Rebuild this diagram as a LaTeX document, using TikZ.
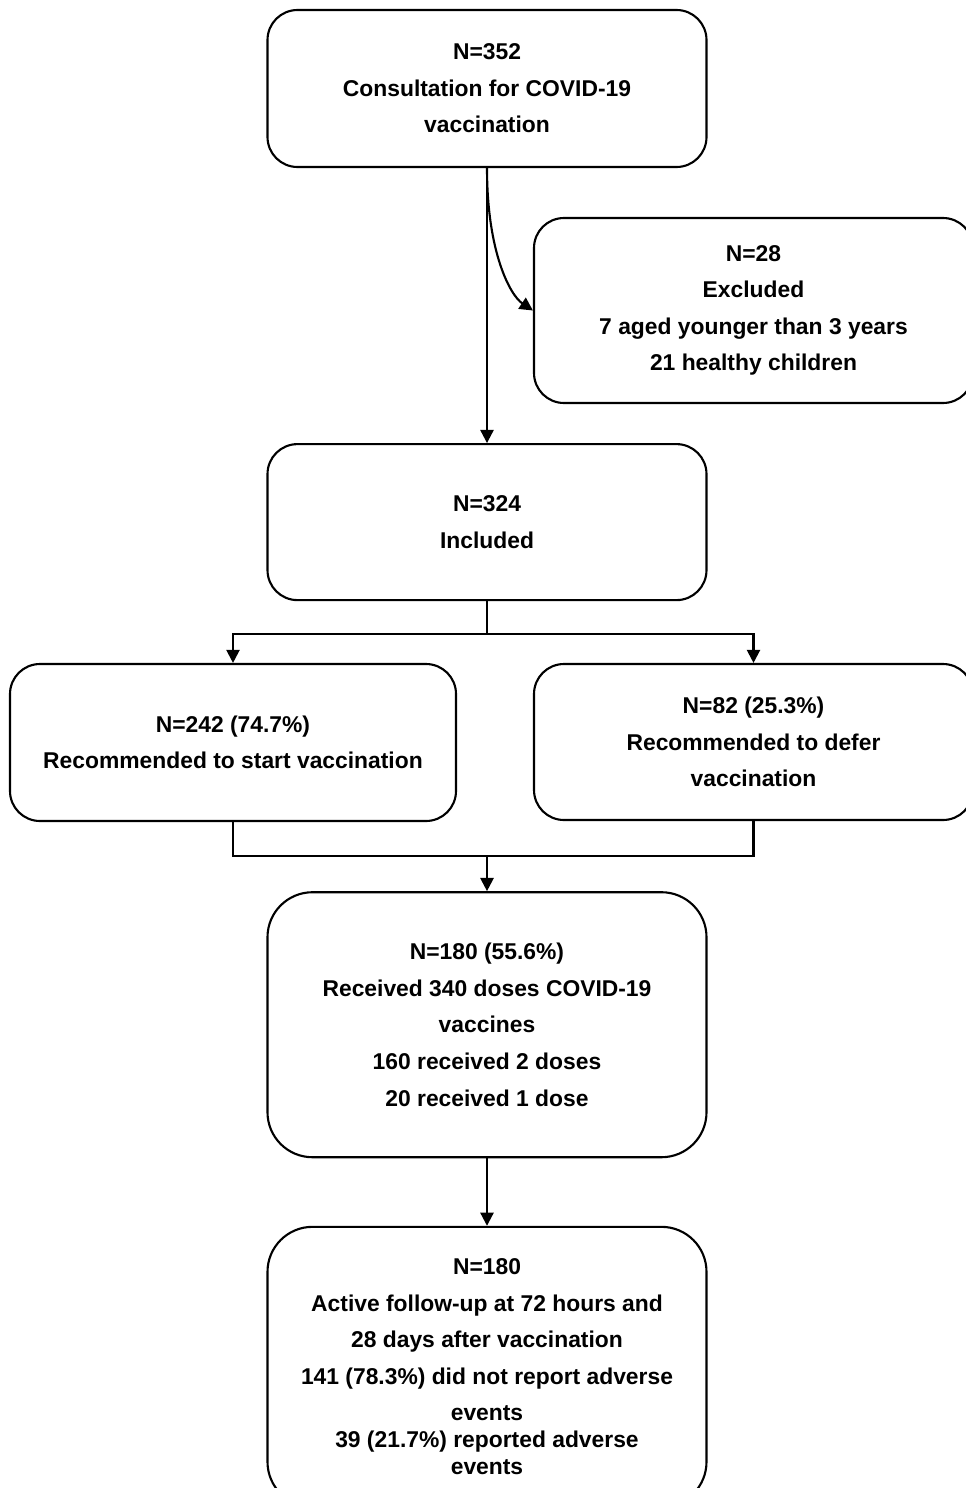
\documentclass[tikz,border=0pt]{standalone}
\usepackage{fontspec}
\setmainfont{Liberation Sans}
\usepackage{tikz}
\usetikzlibrary{positioning,arrows.meta}

\begin{document}
\begin{tikzpicture}[node distance=1cm,
        box/.style={draw, rectangle, rounded corners=0.6cm, line width=1.2pt,
            minimum width=8.78cm, minimum height=3.14cm, align=center,
            font=\fontsize{13}{20.8}\selectfont\bfseries, inner sep=2pt},
        arr/.style={-{Triangle[length=7.5pt,width=7.5pt]}, line width=1.2pt}]
        \useasboundingbox (0,0) rectangle (19.3,-29.76);

        % Nodes
        \node (top) [box] at (9.74,-1.77) {N=352\\Consultation for COVID-19\\vaccination};
        \node (excl) [box, minimum height=3.7cm] at (15.07,-6.21)
            {N=28\\Excluded\\7 aged younger than 3 years\\21 healthy children};
        \node (incl) [box, minimum height=3.12cm, below=5.5cm of top] {N=324\\Included};
        \node (start) [box, minimum width=8.92cm] at (4.66,-14.85)
            {N=242 (74.7\%)\\Recommended to start vaccination};
        \node (defer) [box, minimum height=3.12cm] at (15.07,-14.84)
            {N=82 (25.3\%)\\Recommended to defer\\vaccination};
        \node (vac) [box, minimum height=5.3cm, rounded corners=0.9cm, below=5.8cm of incl]
            {N=180 (55.6\%)\\Received 340 doses COVID-19\\vaccines\\160 received 2 doses\\20 received 1 dose};
        \node (follow) [box, minimum height=5.6cm, rounded corners=0.9cm, below=1.35cm of vac]
            {N=180\\Active follow-up at 72 hours and\\28 days after vaccination\\141 (78.3\%) did not report adverse\\events\\[-5.4pt]39 (21.7\%) reported adverse\\[-5.4pt]events};
        \coordinate (merge) at (9.74,-17.12);

        % Arrows
        \draw[arr] (top) -- (incl);
        \draw[arr] (top.south) .. controls +(0,-1.7) and +(-0.45,0.3) .. (excl.west);
        \draw[arr] (incl.south) -- ++(0,-0.66) -| (start.north);
        \draw[arr] (incl.south) -- ++(0,-0.66) -| (defer.north);
        \draw[line width=1.2pt] (start.south) |- (merge) -| (defer.south);
        \draw[arr] (merge) -- (vac.north);
        \draw[arr] (vac) -- (follow);
    \end{tikzpicture}
\end{document}
